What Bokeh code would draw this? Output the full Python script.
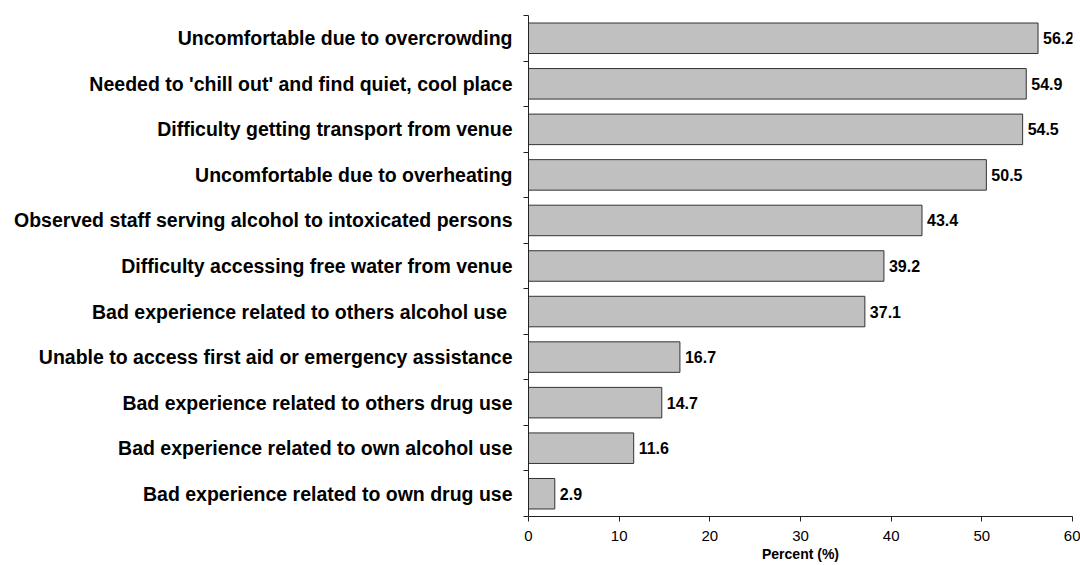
from bokeh.plotting import figure
from bokeh.models import Range1d, FixedTicker, LabelSet, ColumnDataSource
from bokeh.core.properties import value
from bokeh.embed import file_html
from bokeh.resources import INLINE

categories = [
    "Uncomfortable due to overcrowding",
    "Needed to 'chill out' and find quiet, cool place",
    "Difficulty getting transport from venue",
    "Uncomfortable due to overheating",
    "Observed staff serving alcohol to intoxicated persons",
    "Difficulty accessing free water from venue",
    "Bad experience related to others alcohol use ",
    "Unable to access first aid or emergency assistance",
    "Bad experience related to others drug use",
    "Bad experience related to own alcohol use",
    "Bad experience related to own drug use",
]
values = [56.2, 54.9, 54.5, 50.5, 43.4, 39.2, 37.1, 16.7, 14.7, 11.6, 2.9]
x_ticks = [0, 10, 20, 30, 40, 50, 60]
x_title = "Percent (%)"

FONT = "Liberation Sans"
n = len(categories)
positions = [n - 1 - i for i in range(n)]
boundaries = [k + 0.5 for k in range(-1, n)]

p = figure(width=1080, height=565, output_backend="svg", toolbar_location=None,
           x_range=Range1d(0, 60), y_range=Range1d(-0.5, n - 0.5),
           min_border_left=528, min_border_right=8, min_border_top=15, min_border_bottom=49)
p.outline_line_color = None
p.xgrid.visible = False
p.ygrid.visible = False
p.background_fill_color = "white"
p.border_fill_color = "white"

src = ColumnDataSource(dict(y=positions, v=values, t=[f"{v:.1f}" for v in values]))
p.hbar(y="y", left=0, right="v", height=0.67, source=src,
       fill_color="#c0c0c0", line_color="#333333", line_width=1)

labels = LabelSet(x="v", y="y", text="t", source=src, x_offset=5,
                  text_baseline="middle", text_align="left",
                  text_font=value(FONT), text_font_style="bold", text_font_size="16px",
                  text_color="black")
p.add_layout(labels)

# y axis
ya = p.yaxis[0]
ya.ticker = FixedTicker(ticks=positions, minor_ticks=boundaries)
ya.major_label_overrides = {pos: cat for pos, cat in zip(positions, categories)}
ya.major_tick_out = 0
ya.major_tick_in = 0
ya.minor_tick_out = 5
ya.minor_tick_in = 0
ya.minor_tick_line_color = "#222222"
ya.axis_line_color = "#222222"
ya.major_label_standoff = 11
ya.major_label_text_font = FONT
ya.major_label_text_font_style = "bold"
ya.major_label_text_font_size = "19.5px"
ya.major_label_text_color = "black"

# x axis
xa = p.xaxis[0]
xa.ticker = FixedTicker(ticks=x_ticks, minor_ticks=[])
xa.major_tick_out = 5
xa.major_tick_in = 0
xa.minor_tick_out = 0
xa.minor_tick_in = 0
xa.major_tick_line_color = "#222222"
xa.axis_line_color = "#222222"
xa.major_label_standoff = 9
xa.major_label_text_font = FONT
xa.major_label_text_font_size = "15px"
xa.major_label_text_color = "black"
xa.axis_label = x_title
xa.axis_label_text_font = FONT
xa.axis_label_text_font_style = "bold"
xa.axis_label_text_font_size = "14px"
xa.axis_label_text_color = "black"
xa.axis_label_standoff = 2

open("out.html", "w").write(file_html(p, INLINE))
